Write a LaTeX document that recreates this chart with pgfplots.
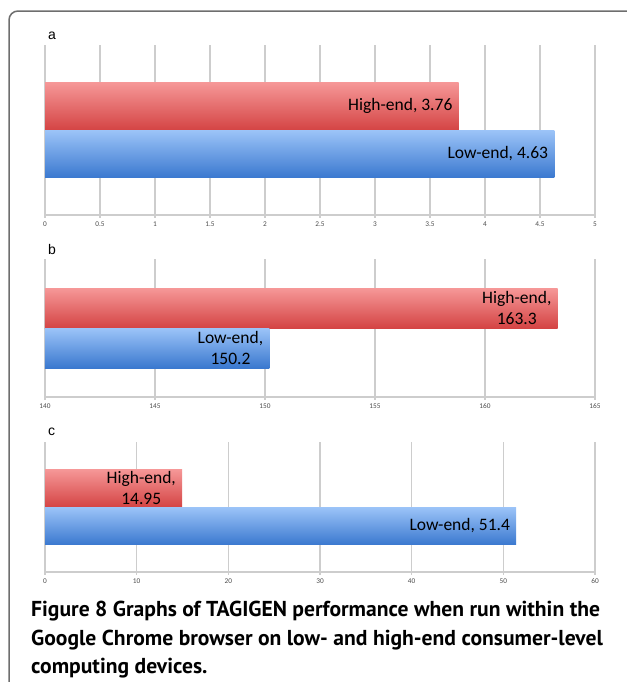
\documentclass[border=0pt]{standalone}
\usepackage{pgfplots}
\pgfplotsset{compat=1.18}
\usepackage{fontspec}
\setmainfont{Carlito}
\newfontfamily\arialf{Liberation Sans}
\newfontfamily\capf{PT Sans}
\definecolor{redtop}{HTML}{F69898}
\definecolor{redbot}{HTML}{D44444}
\definecolor{bluetop}{HTML}{9CC4F8}
\definecolor{bluebot}{HTML}{3A78CF}
\definecolor{gridc}{HTML}{CDCDCD}
\definecolor{framec}{HTML}{6E6E6E}
\pgfplotsset{
  panel/.style={
    scale only axis, width=550bp, anchor=south west,
    axis x line*=bottom, axis y line=none,
    x axis line style={gridc, line width=1.2bp, -},
    xmajorgrids, grid style={gridc, line width=1.3bp},
    ytick=\empty, enlargelimits=false,
    xtick align=outside, major tick length=2.5bp,
    tick style={gridc, line width=1.2bp},
    xticklabel style={font=\fontsize{7.3bp}{8bp}\selectfont, text=black!70, yshift=-1bp},
    /pgf/number format/assume math mode=true,
  },
  hb/.style={xbar, bar width=1, bar shift=0pt, draw=none, top color=redtop, bottom color=redbot},
  lb/.style={xbar, bar width=1, bar shift=0pt, draw=none, top color=bluetop, bottom color=bluebot},
}
\tikzset{barlab/.style={anchor=east, inner sep=0pt, xshift=-6bp, align=center, font=\fontsize{17.5bp}{21bp}\selectfont}}
\begin{document}
\begin{tikzpicture}
\useasboundingbox (0,0) rectangle (627bp,-682bp);
\draw[framec, line width=1.5bp, rounded corners=9bp] (9bp,-700bp) -- (9bp,-11bp) -- (650bp,-11bp);

% panel a
\node[anchor=base west, inner sep=0pt, font=\arialf\fontsize{14bp}{16bp}\selectfont] at (48bp,-39bp) {a};
\begin{axis}[panel, at={(45bp,-215bp)}, height=170bp,
  xmin=0, xmax=5, xtick={0,0.5,...,5}, ymin=-1.771, ymax=1.771]
\addplot[hb] coordinates {(3.76,0.5)};
\addplot[lb] coordinates {(4.63,-0.5)};
\node[barlab] at (axis cs:3.76,0.5) {High-end, 3.76};
\node[barlab] at (axis cs:4.63,-0.5) {Low-end, 4.63};
\end{axis}

% panel b
\node[anchor=base west, inner sep=0pt, font=\arialf\fontsize{14bp}{16bp}\selectfont] at (48bp,-254bp) {b};
\begin{axis}[panel, at={(45bp,-397bp)}, height=138bp,
  xmin=140, xmax=165, xtick={140,145,...,165}, ymin=-1.725, ymax=1.725]
\addplot[hb] coordinates {(163.3,0.5)};
\addplot[lb] coordinates {(150.2,-0.5)};
\node[barlab] at (axis cs:163.3,0.5) {High-end,\\163.3};
\node[barlab] at (axis cs:150.2,-0.5) {Low-end,\\150.2};
\end{axis}

% panel c
\node[anchor=base west, inner sep=0pt, font=\arialf\fontsize{14bp}{16bp}\selectfont] at (48bp,-435bp) {c};
\begin{axis}[panel, at={(45bp,-572bp)}, height=130bp,
  xmin=0, xmax=60, xtick={0,10,...,60}, ymin=-1.711, ymax=1.711]
\addplot[hb] coordinates {(14.95,0.5)};
\addplot[lb] coordinates {(51.4,-0.5)};
\node[barlab] at (axis cs:14.95,0.5) {High-end,\\14.95};
\node[barlab] at (axis cs:51.4,-0.5) {Low-end, 51.4};
\end{axis}

% caption
\begin{scope}[every node/.style={anchor=base west, inner sep=0pt, font=\capf\bfseries\fontsize{21.6bp}{24bp}\selectfont}]
\node at (31bp,-616bp) {Figure 8 Graphs of TAGIGEN performance when run within the};
\node at (31bp,-645bp) {Google Chrome browser on low- and high-end consumer-level};
\node at (31bp,-673bp) {computing devices.};
\end{scope}
\end{tikzpicture}
\end{document}
